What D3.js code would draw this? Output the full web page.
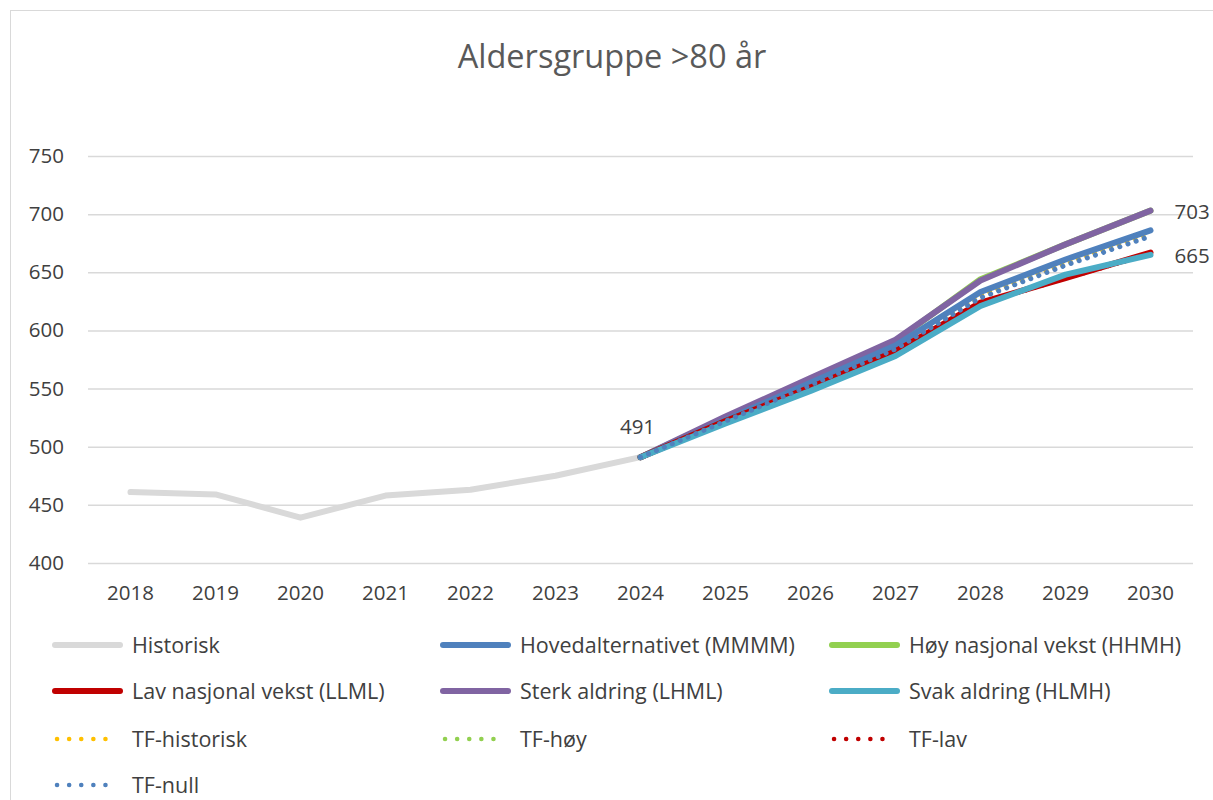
<!DOCTYPE html>
<html><head><meta charset="utf-8">
<script src="https://cdn.jsdelivr.net/npm/d3@7"></script>
<style>
html,body{margin:0;padding:0;background:#fff;}
text{font-family:"Open Sans","Lato",sans-serif;fill:#404040;}
</style></head>
<body><svg id="c" width="1213" height="800"></svg>
<script>
const years = ["2018","2019","2020","2021","2022","2023","2024","2025","2026","2027","2028","2029","2030"];
const yTicks = [400,450,500,550,600,650,700,750];
const historisk = [461,459,439,458,463,475,491,null,null,null,null,null,null];
const hoved =   [null,null,null,null,null,null,491,523,555,587,633,661,686];
const hoy =     [null,null,null,null,null,null,491,525,558,591,644,674,703];
const lav =     [null,null,null,null,null,null,491,522,551,582,624,645,667];
const sterk =   [null,null,null,null,null,null,491,526,559,592,643,674,703];
const svak =    [null,null,null,null,null,null,491,520,548,578,621,648,665];
const tfHistorisk = [null,null,null,null,null,null,491,522,553,585,630,658,684];
const tfHoy =   [null,null,null,null,null,null,491,525,558,591,644,674,703];
const tfLav =   [null,null,null,null,null,null,491,523,552,582,623,645,666];
const tfNull =  [null,null,null,null,null,null,491,522,553,584,628,656,681];
const labels = [{s:"historisk",i:6,t:"491"},{s:"sterk",i:12,t:"703"},{s:"svak",i:12,t:"665"}];

const series = [
  {name:"Historisk", data:historisk, color:"#d9d9d9", dotted:false},
  {name:"Hovedalternativet (MMMM)", data:hoved, color:"#4f81bd", dotted:false},
  {name:"Høy nasjonal vekst (HHMH)", data:hoy, color:"#92d050", dotted:false},
  {name:"Lav nasjonal vekst (LLML)", data:lav, color:"#c00000", dotted:false},
  {name:"Sterk aldring (LHML)", data:sterk, color:"#8064a2", dotted:false},
  {name:"Svak aldring (HLMH)", data:svak, color:"#4bacc6", dotted:false},
  {name:"TF-historisk", data:tfHistorisk, color:"#ffc000", dotted:true},
  {name:"TF-høy", data:tfHoy, color:"#92d050", dotted:true},
  {name:"TF-lav", data:tfLav, color:"#c00000", dotted:true},
  {name:"TF-null", data:tfNull, color:"#4f81bd", dotted:true}
];
const byKey = {historisk, sterk, svak};

const svg = d3.select("#c");
svg.append("rect").attr("x",10.5).attr("y",10.5).attr("width",1230).attr("height",820)
  .attr("fill","#fff").attr("stroke","#d9d9d9").attr("stroke-width",1);

const L=88, R=1193, T=156, B=563;
const x = d3.scaleBand().domain(years).range([L,R]);
const y = d3.scaleLinear().domain([400,750]).range([B,T]);
const cx = d => x(d)+x.bandwidth()/2;

svg.append("text").attr("x",612).attr("y",68).attr("text-anchor","middle")
  .style("font-size","32.5px").style("fill","#595959").text("Aldersgruppe >80 år");

const gy = svg.append("g").attr("transform",`translate(${L},0)`)
  .call(d3.axisLeft(y).tickValues(yTicks).tickSize(-(R-L)).tickPadding(10));
gy.select(".domain").remove();
gy.selectAll(".tick line").attr("stroke","#d9d9d9").attr("stroke-width",1.5);
gy.selectAll(".tick text").attr("x",-24).style("font-size","20.5px").style("fill","#404040").attr("text-anchor","end").attr("dx",0);

const gx = svg.append("g").attr("transform",`translate(0,${B})`)
  .call(d3.axisBottom(x).tickSize(0).tickPadding(22));
gx.select(".domain").remove();
gx.selectAll(".tick text").style("font-size","20.5px").style("fill","#404040");

const line = d3.line().defined(d=>d!=null).x((d,i)=>cx(years[i])).y(d=>y(d));
const g = svg.append("g");
function draw(s){
  const p = g.append("path").datum(s.data).attr("d",line).attr("fill","none")
    .attr("stroke",s.color).attr("stroke-linecap","round").attr("stroke-linejoin","round");
  if(s.dotted){ p.attr("stroke-width",5).attr("stroke-dasharray","0.1 8.5"); }
  else { p.attr("stroke-width",6); }
}
[0,6,7,8,2,4,1,3,5,9].forEach(i=>draw(series[i]));

labels.forEach(l=>{
  const v = byKey[l.s][l.i];
  if(l.i===12){
    svg.append("text").attr("x",cx(years[l.i])+24).attr("y",y(v)+8).style("font-size","20.5px").style("fill","#404040").text(l.t);
  } else {
    svg.append("text").attr("x",cx(years[l.i])-3).attr("y",y(v)-23).attr("text-anchor","middle").style("font-size","20.5px").style("fill","#404040").text(l.t);
  }
});

// legend
const colX = [55,443,832];
const rowY = [645,691,739,785];
const lg = svg.append("g");
series.forEach((s,i)=>{
  const c = i%3, r = Math.floor(i/3);
  const gx0 = colX[c], gy0 = rowY[r];
  const ln = lg.append("line").attr("x1",gx0+(s.dotted?2:0)).attr("x2",gx0+(s.dotted?62:65)).attr("y1",gy0).attr("y2",gy0)
    .attr("stroke",s.color).attr("stroke-linecap","round");
  if(s.dotted) ln.attr("stroke-width",4.5).attr("stroke-dasharray","0.1 12");
  else ln.attr("stroke-width",6);
  lg.append("text").attr("x",gx0+77).attr("y",gy0+7.5).style("font-size","21.5px").style("fill","#404040").text(s.name);
});
</script></body></html>
